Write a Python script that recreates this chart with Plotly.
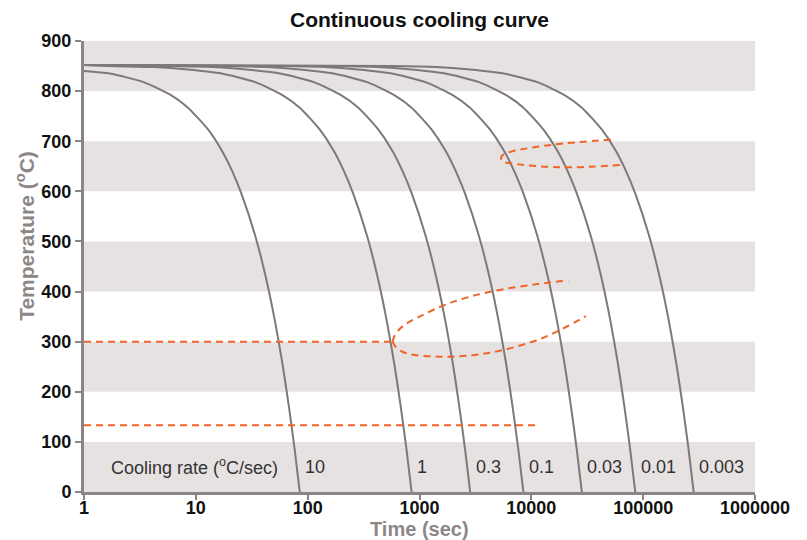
import plotly.graph_objects as go
import numpy as np

# ---- data ----
cooling_rates = ["10", "1", "0.3", "0.1", "0.03", "0.01", "0.003"]

curve_times = [
    [1, 1.7, 3.4, 6, 8.5, 12.8, 17, 21.3, 25.5, 34, 42.5, 51, 59.5, 68, 76.5, 85],
    [1, 1.7, 4.25, 8.5, 17, 34, 59.5, 85, 127.5, 170, 212.5, 255, 340, 425, 510, 595, 680, 765, 850],
    [1, 5.7, 14.2, 28.4, 56.8, 113.6, 198.8, 284, 426, 568, 710, 852, 1136, 1420, 1704, 1988, 2272, 2556, 2840],
    [1, 17, 42.5, 85, 170, 340, 595, 850, 1275, 1700, 2125, 2550, 3400, 4250, 5100, 5950, 6800, 7650, 8500],
    [1, 56.6, 141.5, 283, 566, 1132, 1981, 2830, 4245, 5660, 7075, 8490, 11320, 14150, 16980, 19810, 22640, 25470, 28300],
    [1, 170, 425, 850, 1700, 3400, 5950, 8500, 12750, 17000, 21250, 25500, 34000, 42500, 51000, 59500, 68000, 76500, 85000],
    [1, 566, 1415, 2830, 5660, 11320, 19810, 28300, 42450, 56600, 70750, 84900, 113200, 141500, 169800, 198100, 226400, 254700, 283000],
]
curve_temps = [
    [840, 835, 818, 792, 767, 724, 682, 639, 596, 511, 426, 341, 256, 170, 85, 0],
    [852, 850, 848, 843, 835, 818, 792, 767, 724, 682, 639, 596, 511, 426, 341, 256, 170, 85, 0],
    [852, 850, 848, 843, 835, 818, 792, 767, 724, 682, 639, 596, 511, 426, 341, 256, 170, 85, 0],
    [852, 850, 848, 843, 835, 818, 792, 767, 724, 682, 639, 596, 511, 426, 341, 256, 170, 85, 0],
    [852, 850, 848, 843, 835, 818, 792, 767, 724, 682, 639, 596, 511, 426, 341, 256, 170, 85, 0],
    [852, 850, 848, 843, 835, 818, 792, 767, 724, 682, 639, 596, 511, 426, 341, 256, 170, 85, 0],
    [852, 850, 848, 843, 835, 818, 792, 767, 724, 682, 639, 596, 511, 426, 341, 256, 170, 85, 0],
]

# transformation boundaries (orange dashed)
ms_time = [1, 575]
ms_temp = [300, 300]
bain_upper_time = [575, 600, 700, 1000, 1860, 4370, 14500, 21400]
bain_upper_temp = [300, 312, 330, 350, 377, 400, 418, 422]
bain_lower_time = [575, 620, 760, 1510, 2970, 5530, 13500, 30800]
bain_lower_temp = [300, 288, 277, 270, 273, 283, 310, 351]
pearl_time = [51500, 15500, 6570, 5500, 5370, 5500, 6570, 17800, 67600]
pearl_temp = [703, 693, 679, 672, 666, 660, 656, 648, 653]
mf_time = [1, 11800]
mf_temp = [133, 133]

x_tick_vals = [1, 10, 100, 1000, 10000, 100000, 1000000]
x_tick_text = ["1", "10", "100", "1000", "10000", "100000", "1000000"]
y_tick_vals = [0, 100, 200, 300, 400, 500, 600, 700, 800, 900]
band_ranges = [(0, 100), (200, 300), (400, 500), (600, 700), (800, 900)]

GRAY_LINE = "#7f7878"
AXIS = "#8c8484"
ORANGE = "#ef6428"
BAND = "#e6e2e2"
TITLE_GRAY = "#8c8787"
FONT = "Liberation Sans, Arial, sans-serif"

# page body has an 8px margin: figure is sized/offset to fill the 807x540 window
W, H = 799, 532
ML, MR, MT, MB = 76, 52, 33, 48

fig = go.Figure()

for t, T in zip(curve_times, curve_temps):
    fig.add_trace(go.Scatter(x=t, y=T, mode="lines",
                             line=dict(color=GRAY_LINE, width=2, shape="spline", smoothing=0.6),
                             hoverinfo="skip", showlegend=False))

dash = "7px,5px"
for t, T in [(ms_time, ms_temp), (bain_upper_time, bain_upper_temp),
             (bain_lower_time, bain_lower_temp), (pearl_time, pearl_temp),
             (mf_time, mf_temp)]:
    fig.add_trace(go.Scatter(x=t, y=T, mode="lines",
                             line=dict(color=ORANGE, width=2, dash=dash, shape="spline", smoothing=1),
                             hoverinfo="skip", showlegend=False))

shapes = []
for y0, y1 in band_ranges:
    shapes.append(dict(type="rect", xref="x domain", yref="y", x0=0, x1=1, y0=y0, y1=y1,
                       fillcolor=BAND, line=dict(width=0), layer="below"))

annotations = [dict(x=0.99, y=50, xref="x", yref="y", text="Cooling rate (<sup>o</sup>C/sec)",
                    showarrow=False, xanchor="center", yanchor="middle",
                    font=dict(family=FONT, size=18, color="#333333"))]
for lab, t in zip(cooling_rates, curve_times):
    annotations.append(dict(x=np.log10(t[-1]) + 0.03, y=50, xref="x", yref="y", text=lab,
                            showarrow=False, xanchor="left", yanchor="middle",
                            font=dict(family=FONT, size=18, color="#333333")))

# axis titles
annotations.append(dict(x=0.5, y=0, xref="paper", yref="paper", yshift=-37,
                        text="<b>Time (sec)</b>", showarrow=False,
                        xanchor="center", yanchor="middle",
                        font=dict(family=FONT, size=20, color=TITLE_GRAY)))
annotations.append(dict(x=0, y=0.568, xref="paper", yref="paper", xshift=-59,
                        text="<b>Temperature (<sup>o</sup>C)</b>", showarrow=False, textangle=-90,
                        xanchor="center", yanchor="middle",
                        font=dict(family=FONT, size=21, color=TITLE_GRAY)))

fig.update_layout(
    width=W, height=H,
    margin=dict(l=ML, r=MR, t=MT, b=MB),
    plot_bgcolor="white", paper_bgcolor="white",
    title=dict(text="<b>Continuous cooling curve</b>", x=0.5, xref="paper", xanchor="center",
               y=1 - 12 / H, yref="container", yanchor="middle",
               font=dict(family=FONT, size=21, color="#111111")),
    shapes=shapes, annotations=annotations,
    xaxis=dict(type="log", range=[0, 6], tickvals=x_tick_vals, ticktext=x_tick_text,
               ticks="outside", ticklen=5, tickwidth=2, tickcolor=AXIS, automargin=False,
               ticklabelstandoff=-8,
               showline=True, linewidth=3, linecolor=AXIS, showgrid=False, zeroline=False,
               tickfont=dict(family=FONT, size=18, color="#111111", weight="bold")),
    yaxis=dict(range=[0, 900], tickvals=y_tick_vals, automargin=False,
               ticks="outside", ticklen=6, tickwidth=2, tickcolor=AXIS,
               showline=True, linewidth=3, linecolor=AXIS, showgrid=False, zeroline=False,
               tickfont=dict(family=FONT, size=18, color="#111111", weight="bold")),
)

fig.write_html("out.html")
